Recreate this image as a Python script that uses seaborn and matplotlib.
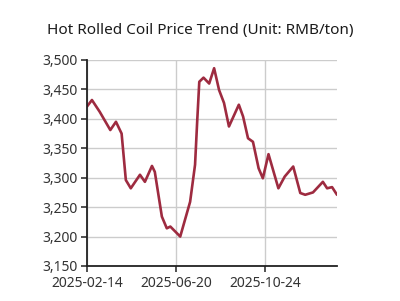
import matplotlib
matplotlib.use("Agg")
import matplotlib.pyplot as plt
import matplotlib.dates as mdates
import matplotlib.ticker as mticker
import seaborn as sns
import pandas as pd

dates = ["2025-02-14", "2025-02-21", "2025-03-04", "2025-03-19", "2025-03-27",
         "2025-04-04", "2025-04-10", "2025-04-17", "2025-04-30", "2025-05-07",
         "2025-05-17", "2025-05-21", "2025-05-31", "2025-06-07", "2025-06-12",
         "2025-06-26", "2025-07-10", "2025-07-17", "2025-07-20", "2025-07-23",
         "2025-07-29", "2025-08-06", "2025-08-13", "2025-08-20", "2025-08-27",
         "2025-09-03", "2025-09-17", "2025-09-23", "2025-09-30", "2025-10-07",
         "2025-10-15", "2025-10-21", "2025-10-29", "2025-11-12", "2025-11-21",
         "2025-12-03", "2025-12-13", "2025-12-20", "2025-12-31", "2026-01-14",
         "2026-01-20", "2026-01-27", "2026-02-03"]
prices = [3421, 3432, 3412, 3381, 3395,
          3375, 3296, 3282, 3305, 3293,
          3320, 3310, 3234, 3214, 3217,
          3200, 3259, 3322, 3395, 3463,
          3470, 3460, 3486, 3449, 3427,
          3387, 3424, 3404, 3367, 3361,
          3316, 3299, 3340, 3282, 3302,
          3319, 3274, 3271, 3275, 3293,
          3282, 3284, 3271]
tick_dates = ["2025-02-14", "2025-06-20", "2025-10-24"]
y_ticks = [3150, 3200, 3250, 3300, 3350, 3400, 3450, 3500]
title = "Hot Rolled Coil Price Trend (Unit: RMB/ton)"

df = pd.DataFrame({"date": pd.to_datetime(dates), "price": prices})

sns.set_style("whitegrid")
plt.rcParams["font.family"] = ["Noto Sans", "DejaVu Sans"]

fig = plt.figure(figsize=(4.0, 3.01), dpi=100)
ax = fig.add_axes([0.2175, 0.1163, 0.625, 0.6844])

sns.lineplot(data=df, x="date", y="price", ax=ax, color="#9e2b40", linewidth=1.9)

ax.set_xlim(pd.Timestamp(dates[0]), pd.Timestamp(dates[-1]))
ax.set_ylim(y_ticks[0], y_ticks[-1])
ax.set_yticks(y_ticks)
ax.yaxis.set_major_formatter(mticker.FuncFormatter(lambda v, p: f"{int(v):,}"))
ax.set_xticks(pd.to_datetime(tick_dates))
ax.xaxis.set_major_formatter(mdates.DateFormatter("%Y-%m-%d"))

ax.set_xlabel("")
ax.set_ylabel("")
ax.grid(True, color="#cccccc", linewidth=1.0)
for s in ["top", "right"]:
    ax.spines[s].set_visible(False)
for s in ["left", "bottom"]:
    ax.spines[s].set_visible(True)
    ax.spines[s].set_color("#222222")
    ax.spines[s].set_linewidth(1.3)
ax.tick_params(axis="both", which="major", labelsize=10, colors="#333333",
               length=4, width=1.2, direction="out", pad=3, left=True, bottom=True)
ax.tick_params(axis="both", labelcolor="#333333")

fig.text(0.5, 0.9, title, ha="center", va="center", fontsize=11, color="#1a1a1a")

fig.savefig("out.png", dpi=100, facecolor="white")
